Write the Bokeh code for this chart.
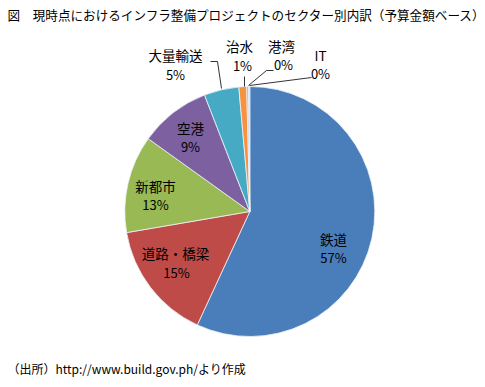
import math
from bokeh.plotting import figure
from bokeh.models import Range1d
from bokeh.core.properties import value
from bokeh.embed import file_html
from bokeh.resources import INLINE

# ---- data ----
sectors = ["鉄道", "道路・橋梁", "新都市", "空港", "大量輸送", "治水", "港湾", "IT"]
shares = [56.9, 15.4, 12.6, 9.2, 4.5, 1.0, 0.25, 0.15]
pct_labels = ["57%", "15%", "13%", "9%", "5%", "1%", "0%", "0%"]
title_text = "図　現時点におけるインフラ整備プロジェクトのセクター別内訳（予算金額ベース）"
source_text = "（出所）http://www.build.gov.ph/より作成"

# ---- styles / layout ----
colors = ["#4A7EBB", "#BE4B48", "#98B954", "#7D60A0", "#46AAC5", "#F69240", "#A3B6DA", "#C3CFE6"]
FONT = value("Noto Sans CJK JP")
W, H = 485, 387
cx, cy_page, R = 249.3, 211.0, 125.0

def py(y):
    return H - y

# label anchor positions (page px): name row and percent row
name_pos = [(333, 238), (175, 252), (155, 185), (190, 127), (175, 54), (239, 45), (281, 45), (320, 54)]
pct_pos = [(333, 257), (176, 272), (155, 204), (190, 146), (175, 74), (242, 65), (283, 64), (320, 73)]
leaders = {
    4: [(210, 61), (217, 61), (221, 88)],
    5: [(244, 76), (244, 86)],
    6: [(273, 70), (266, 70), (248, 85)],
    7: [(311, 77), (249, 85)],
}

p = figure(width=W, height=H, x_range=Range1d(0, W), y_range=Range1d(0, H),
           output_backend="svg", toolbar_location=None, min_border=0)
p.axis.visible = False
p.grid.visible = False
p.outline_line_color = None
p.background_fill_color = "white"
p.border_fill_color = "white"

total = sum(shares)
cum = 0.0
starts, ends = [], []
for s in shares:
    starts.append(math.pi / 2 - 2 * math.pi * cum / total)
    cum += s
    ends.append(math.pi / 2 - 2 * math.pi * cum / total)

p.wedge(x=[cx] * len(shares), y=[py(cy_page)] * len(shares), radius=R,
        start_angle=starts, end_angle=ends, direction="clock",
        fill_color=colors, line_color="#EEF2F8", line_width=0.8)

for i, pts in leaders.items():
    p.line([q[0] for q in pts], [py(q[1]) for q in pts], line_color="black", line_width=0.8)

p.text(x=[q[0] for q in name_pos], y=[py(q[1]) for q in name_pos], text=sectors,
       text_font=FONT, text_font_size="13.5px", text_align="center", text_baseline="middle",
       text_color="black")
p.text(x=[q[0] for q in pct_pos], y=[py(q[1]) for q in pct_pos], text=pct_labels,
       text_font=FONT, text_font_size="13px", text_align="center", text_baseline="middle",
       text_color="black")

p.text(x=[7], y=[py(14)], text=[title_text], text_font=FONT, text_font_size="12.6px",
       text_align="left", text_baseline="middle", text_color="black")
p.text(x=[7], y=[py(368)], text=[source_text], text_font=FONT, text_font_size="12px",
       text_align="left", text_baseline="middle", text_color="black")

open("out.html", "w").write(file_html(p, INLINE))
